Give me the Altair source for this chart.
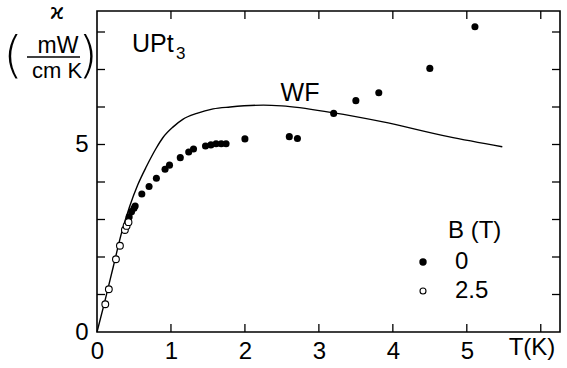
import altair as alt
import pandas as pd

FONT = "Liberation Sans"

# B = 0 T (filled circles)
t_b0 = [0.435, 0.467, 0.50, 0.516, 0.606, 0.704, 0.803, 0.92, 0.98, 1.126, 1.24, 1.305,
        1.467, 1.54, 1.61, 1.68, 1.745, 2.0, 2.6, 2.71, 3.20, 3.50, 3.81, 4.50, 5.11]
k_b0 = [3.07, 3.21, 3.30, 3.36, 3.68, 3.88, 4.10, 4.34, 4.45, 4.65, 4.80, 4.88,
        4.96, 4.99, 5.02, 5.02, 5.02, 5.15, 5.21, 5.16, 5.83, 6.17, 6.38, 7.03, 8.14]
# B = 2.5 T (open circles)
t_b25 = [0.112, 0.16, 0.256, 0.31, 0.377, 0.40, 0.426]
k_b25 = [0.74, 1.14, 1.94, 2.30, 2.72, 2.83, 2.93]
# Wiedemann-Franz curve
t_wf = [0, 0.10, 0.22, 0.33, 0.44, 0.55, 0.67, 0.80, 0.89, 1.03, 1.16, 1.35, 1.57, 1.80,
        2.25, 2.5, 3.18, 3.85, 4.75, 5.48]
k_wf = [0, 0.77, 1.74, 2.63, 3.34, 3.92, 4.42, 4.90, 5.18, 5.47, 5.67, 5.83, 5.95, 6.00,
        6.05, 6.03, 5.85, 5.61, 5.21, 4.94]

x_labels = [0, 1, 2, 3, 4, 5]
y_labels = [0, 5]
x_ticks = [1, 2, 3, 4, 5, 6]
y_ticks = [1, 2, 3, 4, 5, 6, 7, 8]

W, H = 463, 321
xs = alt.Scale(domain=[0, 6.26], nice=False, zero=False)
ys = alt.Scale(domain=[0, 8.56], nice=False, zero=False)

ax_x = alt.Axis(values=x_labels, title=None, labelFontSize=24, labelFont=FONT, labelColor="black",
                labelPadding=7, domain=False, ticks=False, grid=False, labelFlush=False,
                labelOverlap=False)
ax_y = alt.Axis(values=y_labels, title=None, labelFontSize=24, labelFont=FONT, labelColor="black",
                labelPadding=9, domain=False, ticks=False, grid=False, labelFlush=False,
                labelOverlap=False)

df_b0 = pd.DataFrame({"T": t_b0, "k": k_b0})
df_b25 = pd.DataFrame({"T": t_b25, "k": k_b25})
df_wf = pd.DataFrame({"T": t_wf, "k": k_wf})
df_xt = pd.DataFrame({"T": x_ticks})
df_yt = pd.DataFrame({"k": y_ticks})
one = alt.Data(values=[{}])

X = alt.X("T:Q", scale=xs, axis=ax_x)
Y = alt.Y("k:Q", scale=ys, axis=ax_y)

wf = alt.Chart(df_wf).mark_line(color="black", strokeWidth=1.4, interpolate="monotone").encode(x=X, y=Y)

filled = alt.Chart(df_b0).mark_circle(color="black", size=50, opacity=1).encode(x=X, y=Y)

opened = alt.Chart(df_b25).mark_point(shape="circle", filled=True, fill="white", stroke="black",
                                      strokeWidth=1.1, size=46, opacity=1).encode(x=X, y=Y)

tick_style = dict(color="black", strokeWidth=1.3)
xt_bottom = alt.Chart(df_xt).mark_rule(**tick_style).encode(x=X, y=alt.value(H), y2=alt.value(H - 8))
xt_top = alt.Chart(df_xt).mark_rule(**tick_style).encode(x=X, y=alt.value(0), y2=alt.value(8))
yt_left = alt.Chart(df_yt).mark_rule(**tick_style).encode(y=Y, x=alt.value(0), x2=alt.value(8))
yt_right = alt.Chart(df_yt).mark_rule(**tick_style).encode(y=Y, x=alt.value(W), x2=alt.value(W - 8))


def txt(s, x, y, size=24, align="center", font=FONT, weight="normal"):
    return alt.Chart(one).mark_text(text=s, fontSize=size, font=font, align=align,
                                    baseline="middle", color="black", fontWeight=weight).encode(
        x=alt.value(x), y=alt.value(y))


annotations = [
    txt("T(K)", 435, 337),
    txt("ϰ", -40, 1, size=22, font="DejaVu Sans"),
    txt("(", -84, 46, size=50, font="DejaVu Sans", weight=200),
    txt(")", -9, 46, size=50, font="DejaVu Sans", weight=200),
    txt("mW", -39, 35, size=23),
    txt("cm K", -40, 60, size=22),
    txt("UPt", 35, 33, align="left", size=25),
    txt("3", 79, 43, align="left", size=17),
    txt("WF", 203, 82, size=25),
    txt("B (T)", 351, 220, align="left"),
    txt("0", 358, 251, align="left"),
    txt("2.5", 358, 280, align="left"),
]

frac = alt.Chart(one).mark_rule(color="black", strokeWidth=1.3).encode(
    x=alt.value(-70), x2=alt.value(-17), y=alt.value(46))
leg_dot = alt.Chart(one).mark_circle(color="black", size=55, opacity=1).encode(
    x=alt.value(326), y=alt.value(251))
leg_open = alt.Chart(one).mark_point(shape="circle", filled=True, fill="white", stroke="black",
                                     strokeWidth=1.1, size=36, opacity=1).encode(
    x=alt.value(326), y=alt.value(280))

chart = alt.layer(wf, filled, opened, xt_bottom, xt_top, yt_left, yt_right,
                  frac, leg_dot, leg_open, *annotations).properties(
    width=W, height=H,
    autosize=alt.AutoSizeParams(type="none"),
    padding={"left": 97, "top": 11, "right": 7, "bottom": 36},
    background="white",
).configure_view(stroke="black", strokeWidth=1.6)

chart.save("out.html", embed_options={"renderer": "svg", "actions": False})
